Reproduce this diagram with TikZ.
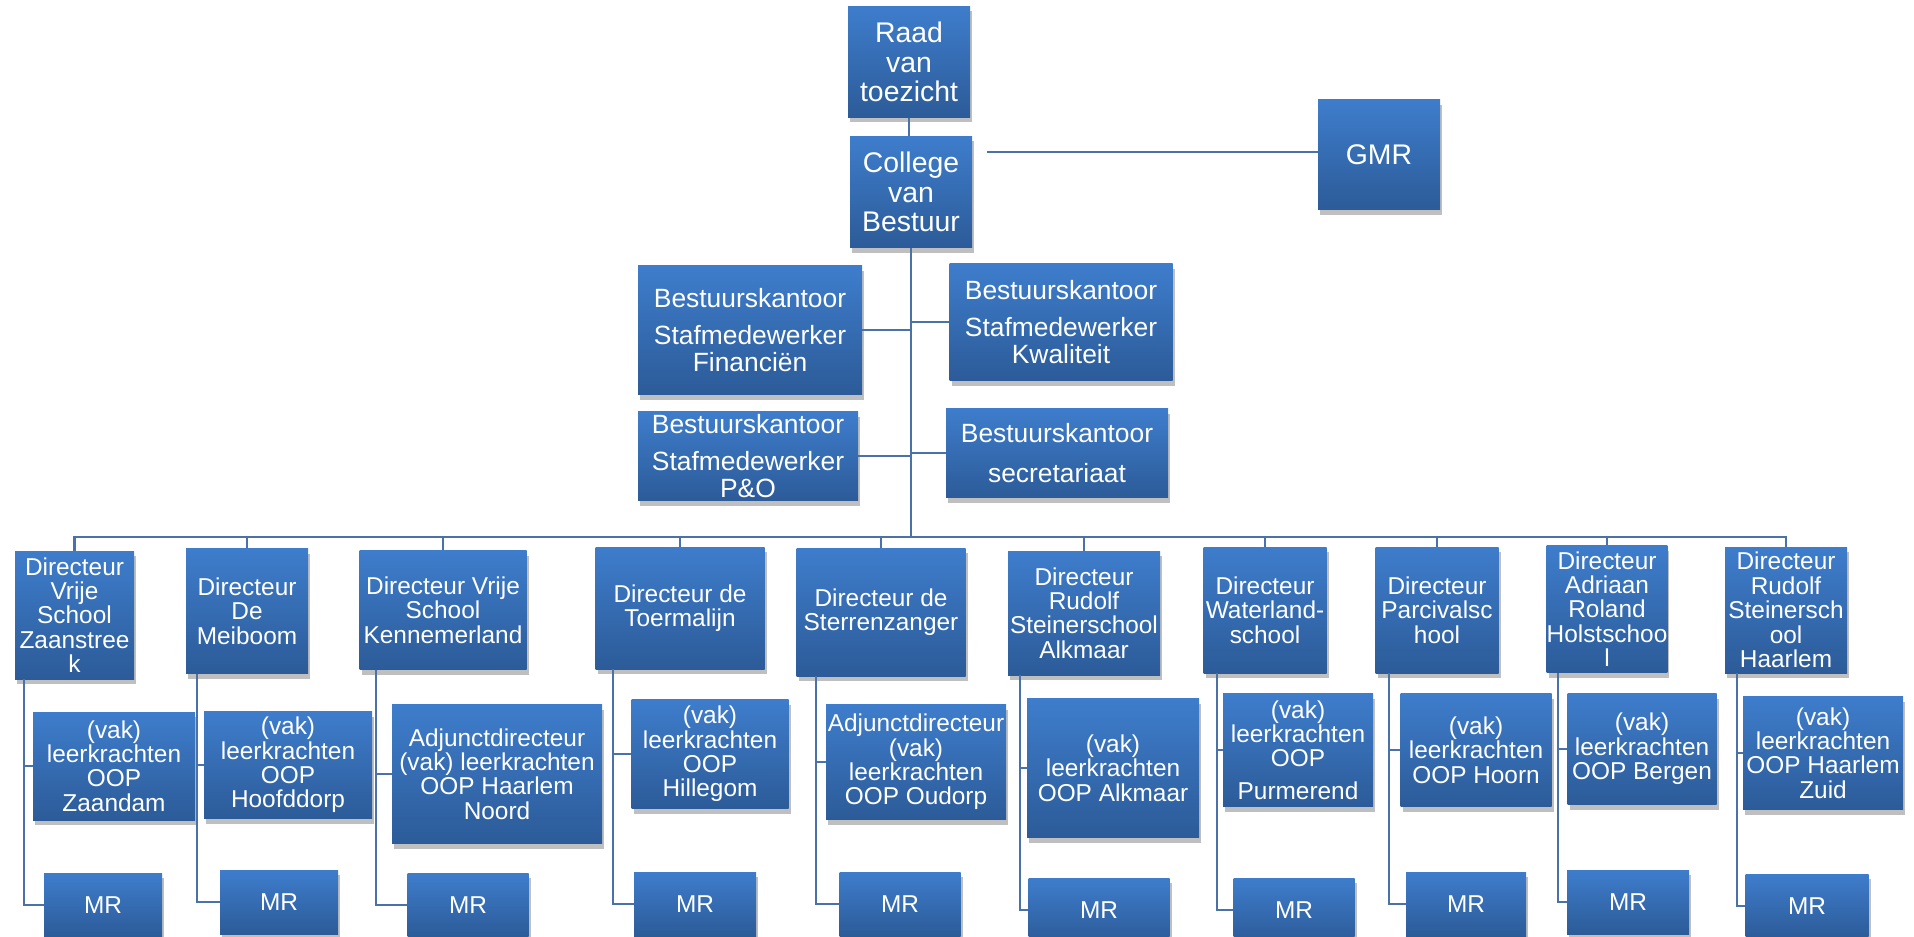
\documentclass[tikz,border=0pt]{standalone}
\usepackage{fontspec}
\setmainfont{Liberation Sans}
\usetikzlibrary{shadows}

\definecolor{boxtop}{HTML}{3E7DCC}
\definecolor{boxbot}{HTML}{2C5B98}
\definecolor{linecol}{HTML}{4A72A8}
\newcommand\boxfont{\fontsize{12.2}{12.2}\selectfont}
\newcommand\stafffont{\fontsize{13.2}{13.4}\selectfont}
\newcommand\topfont{\fontsize{14.2}{14.6}\selectfont}

\begin{document}
\begin{tikzpicture}[x=0.5pt,y=-0.5pt,
    box/.style={draw=none, top color=boxtop, bottom color=boxbot, text=white,
      align=center, inner sep=0pt, font=\boxfont,
      drop shadow={shadow xshift=1pt, shadow yshift=-2.5pt, opacity=0.25, fill=black}},
    conn/.style={draw=linecol, line width=1.1pt}]

        \useasboundingbox (0,0) rectangle (1914,936);
        \clip (0,0) rectangle (1914,936);

        \begin{scope}[every node/.style={box}]
          % top
          \node[font=\topfont, minimum width=61pt, minimum height=55.5pt] (raad) at (909,62)  {Raad\\van\\toezicht};
          \node[font=\topfont, minimum width=61pt, minimum height=55.5pt] (cvb)  at (911,192) {College\\van\\Bestuur};
          \node[font=\topfont, minimum width=61pt, minimum height=55pt]   (gmr)  at (1379,155) {GMR};

          % bestuurskantoor
          \node[font=\stafffont, minimum width=112pt, minimum height=64.5pt]   (fin)  at (750,330)  {Bestuurskantoor\\[5pt]Stafmedewerker\\Financiën};
          \node[font=\stafffont, minimum width=111.5pt, minimum height=58.5pt] (kwal) at (1061,322) {Bestuurskantoor\\[5pt]Stafmedewerker\\Kwaliteit};
          \node[font=\stafffont, minimum width=110pt, minimum height=44.5pt]   (po)   at (748,456)  {Bestuurskantoor\\[5pt]Stafmedewerker\\P\&O};
          \node[font=\stafffont, minimum width=111pt, minimum height=44.5pt]   (secr) at (1057,453) {Bestuurskantoor\\[7pt]secretariaat};

          % directeuren
          \node[minimum width=59.5pt, minimum height=64pt] (d1)  at (74.5,615) {Directeur\\Vrije\\School\\Zaanstree\\k};
          \node[minimum width=61pt, minimum height=62.5pt] (d2)  at (247,611)  {Directeur\\De\\Meiboom};
          \node[minimum width=83.5pt, minimum height=59.5pt] (d3) at (443,610) {Directeur Vrije\\School\\Kennemerland};
          \node[minimum width=84.5pt, minimum height=61pt] (d4)  at (680,608)  {Directeur de\\Toermalijn};
          \node[minimum width=84.5pt, minimum height=64pt] (d5)  at (881,612)  {Directeur de\\Sterrenzanger};
          \node[minimum width=76pt, minimum height=62pt]   (d6)  at (1084,613) {Directeur\\Rudolf\\Steinerschool\\Alkmaar};
          \node[minimum width=61.5pt, minimum height=63pt] (d7)  at (1265,610) {Directeur\\Waterland-\\school};
          \node[minimum width=61.5pt, minimum height=63pt] (d8)  at (1437,610) {Directeur\\Parcivalsc\\hool};
          \node[minimum width=60pt, minimum height=63.5pt] (d9)  at (1607,609) {Directeur\\Adriaan\\Roland\\Holstschoo\\l};
          \node[minimum width=61pt, minimum height=63pt]   (d10) at (1786,610) {Directeur\\Rudolf\\Steinersch\\ool\\Haarlem};

          % leerkrachten
          \node[minimum width=81pt, minimum height=54pt]     (s1)  at (114,766)  {(vak)\\leerkrachten\\OOP\\Zaandam};
          \node[minimum width=84pt, minimum height=53.5pt]   (s2)  at (288,765)  {(vak)\\leerkrachten\\OOP\\Hoofddorp};
          \node[minimum width=105pt, minimum height=69.5pt]  (s3)  at (497,774)  {Adjunctdirecteur\\(vak) leerkrachten\\OOP Haarlem\\Noord};
          \node[minimum width=78.5pt, minimum height=54.5pt] (s4)  at (710,754)  {(vak)\\leerkrachten\\OOP\\Hillegom};
          \node[minimum width=90pt, minimum height=57.5pt]   (s5)  at (916,762)  {Adjunctdirecteur\\(vak)\\leerkrachten\\OOP Oudorp};
          \node[minimum width=86pt, minimum height=69.5pt]   (s6)  at (1113,768) {(vak)\\leerkrachten\\OOP Alkmaar};
          \node[minimum width=75pt, minimum height=56.5pt]   (s7)  at (1298,750) {(vak)\\leerkrachten\\OOP\\[4pt]Purmerend};
          \node[minimum width=75.5pt, minimum height=56.5pt] (s8)  at (1476,750) {(vak)\\leerkrachten\\OOP Hoorn};
          \node[minimum width=74.5pt, minimum height=55.5pt] (s9)  at (1642,749) {(vak)\\leerkrachten\\OOP Bergen};
          \node[minimum width=80pt, minimum height=56.5pt]   (s10) at (1823,753) {(vak)\\leerkrachten\\OOP Haarlem\\Zuid};

          % MR
          \node[minimum width=59pt, minimum height=32pt]   (m1)  at (103,905)  {MR};
          \node[minimum width=59pt, minimum height=32pt]   (m2)  at (279,902)  {MR};
          \node[minimum width=60.5pt, minimum height=32pt] (m3)  at (468,905)  {MR};
          \node[minimum width=61pt, minimum height=32pt]   (m4)  at (695,904)  {MR};
          \node[minimum width=60.5pt, minimum height=32pt] (m5)  at (900,904)  {MR};
          \node[minimum width=70.5pt, minimum height=32pt] (m6)  at (1099,910) {MR};
          \node[minimum width=60.5pt, minimum height=32pt] (m7)  at (1294,910) {MR};
          \node[minimum width=60pt, minimum height=32pt]   (m8)  at (1466,904) {MR};
          \node[minimum width=61pt, minimum height=32pt]   (m9)  at (1628,902) {MR};
          \node[minimum width=61.5pt, minimum height=32pt] (m10) at (1807,906) {MR};
        \end{scope}

        \coordinate (bus) at (911,537);
        \coordinate (gmrin) at ([yshift=1.5pt]gmr.west);
        \coordinate (v1)  at ([xshift=4.5pt]d1.south west);
        \coordinate (v2)  at ([xshift=5.5pt]d2.south west);
        \coordinate (v3)  at ([xshift=8.5pt]d3.south west);
        \coordinate (v4)  at ([xshift=9pt]d4.south west);
        \coordinate (v5)  at ([xshift=10pt]d5.south west);
        \coordinate (v6)  at ([xshift=6pt]d6.south west);
        \coordinate (v7)  at ([xshift=7pt]d7.south west);
        \coordinate (v8)  at ([xshift=7pt]d8.south west);
        \coordinate (v9)  at ([xshift=6pt]d9.south west);
        \coordinate (v10) at ([xshift=6pt]d10.south west);

        \begin{scope}[every path/.style={conn}]
          \draw (raad.south) -- (raad.south |- cvb.north);
          \draw[shorten <=7.5pt] (cvb.east |- gmrin) -- (gmrin);
          \draw (cvb.south) -- (bus);

          \draw (fin.east)  -- (fin.east -| bus);
          \draw (kwal.west) -- (kwal.west -| bus);
          \draw (po.east)   -- (po.east -| bus);
          \draw (secr.west) -- (secr.west -| bus);

          \draw (bus) -| (d1.north);
          \draw (bus) -| (d2.north);
          \draw (bus) -| (d3.north);
          \draw (bus) -| (d4.north);
          \draw (bus) -| (d5.north);
          \draw (bus) -| (d6.north);
          \draw (bus) -| (d7.north);
          \draw (bus) -| (d8.north);
          \draw (bus) -| (d9.north);
          \draw (bus) -| (d10.north);

          \draw (v1)  |- (s1.west);  \draw (v1)  |- (m1.west);
          \draw (v2)  |- (s2.west);  \draw (v2)  |- (m2.west);
          \draw (v3)  |- (s3.west);  \draw (v3)  |- (m3.west);
          \draw (v4)  |- (s4.west);  \draw (v4)  |- (m4.west);
          \draw (v5)  |- (s5.west);  \draw (v5)  |- (m5.west);
          \draw (v6)  |- (s6.west);  \draw (v6)  |- (m6.west);
          \draw (v7)  |- (s7.west);  \draw (v7)  |- (m7.west);
          \draw (v8)  |- (s8.west);  \draw (v8)  |- (m8.west);
          \draw (v9)  |- (s9.west);  \draw (v9)  |- (m9.west);
          \draw (v10) |- (s10.west); \draw (v10) |- (m10.west);
        \end{scope}

      \end{tikzpicture}
\end{document}
